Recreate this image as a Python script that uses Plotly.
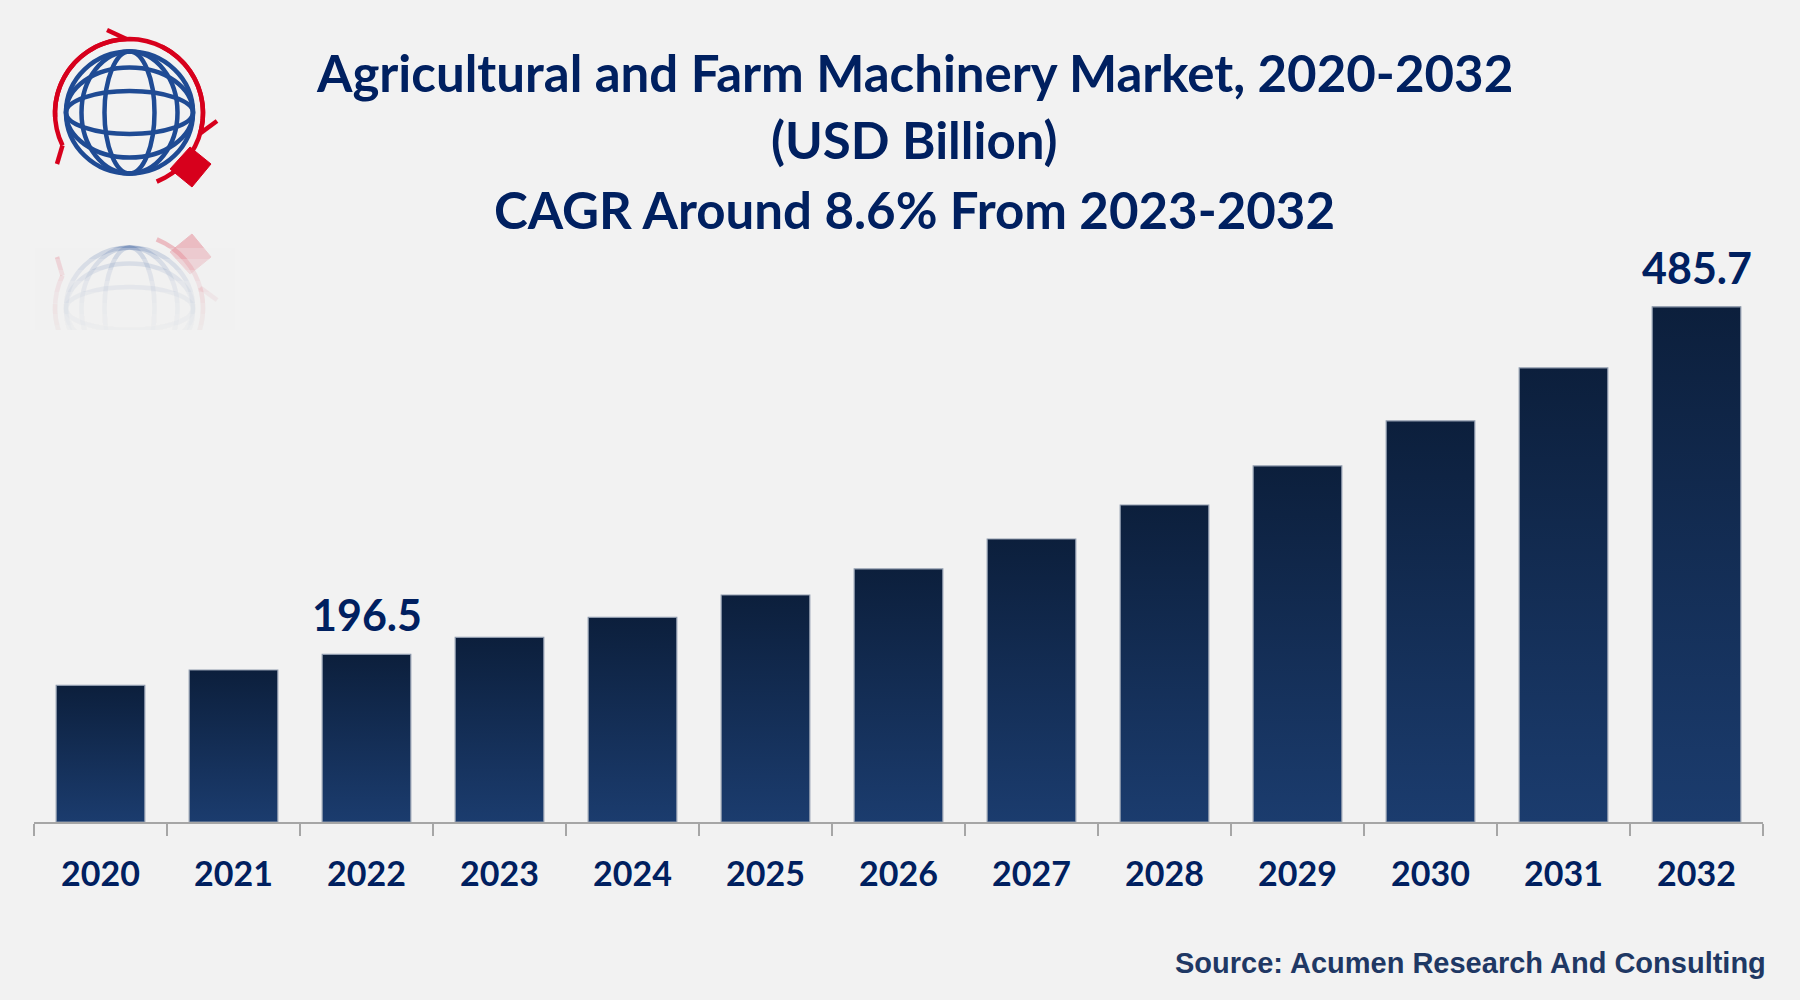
import math
import plotly.graph_objects as go

# Data
years = ['2020', '2021', '2022', '2023', '2024', '2025', '2026',
         '2027', '2028', '2029', '2030', '2031', '2032']
market_size = [170.7, 183.5, 196.5, 210.6, 227.3, 245.9, 267.6,
               292.5, 320.8, 353.3, 390.8, 434.9, 485.7]
labeled_years = ['2022', '2032']

title_lines = ['Agricultural and Farm Machinery Market, 2020-2032',
               '(USD Billion)',
               'CAGR Around 8.6% From 2023-2032']
source_text = 'Source: Acumen Research And Consulting'

# Layout constants
W, H = 1800, 1000
ML, MR, MT, MB = 34, 37, 250, 178
Y_MIN, Y_MAX = 57, 533
BG = '#F2F2F2'
NAVY = '#002060'
BLUE = '#1F4B94'
RED = '#D7001C'


def px_x(px):
  """pixel x -> paper x"""
  return (px - ML) / (W - ML - MR)


def px_y(py):
  """pixel y (from top) -> paper y"""
  return (H - MB - py) / (H - MT - MB)


def path_from(points):
  return 'M ' + ' L '.join(f'{px_x(x):.5f},{px_y(y):.5f}' for x, y in points)


def arc_points(cx, cy, r, a0, a1, n=40):
  pts = []
  for k in range(n + 1):
    a = math.radians(a0 + (a1 - a0) * k / n)
    pts.append((cx + r * math.cos(a), cy - r * math.sin(a)))
  return pts


def logo_shapes(mirror=None, opacity=1.0):
  """globe logo, optionally mirrored around pixel line y=mirror"""
  fy = (lambda y: y) if mirror is None else (lambda y: 2 * mirror - y)
  shapes = []
  cx, cy = 129.5, 112.5
  # globe ellipses
  for rx, ry in [(63.5, 61), (48, 61), (25, 61), (63.5, 45), (63.5, 21.5)]:
    ya, yb = fy(cy - ry), fy(cy + ry)
    shapes.append(dict(type='circle', xref='paper', yref='paper',
                       x0=px_x(cx - rx), x1=px_x(cx + rx),
                       y0=px_y(ya), y1=px_y(yb),
                       line=dict(color=BLUE, width=4.5), opacity=opacity,
                       layer='above'))
  # red arcs with a single barb at the end
  arcs = [((183, 92), (107, 30)), ((64, -16), (217, 121)), ((-68, 206), (57, 164))]
  for (a0, a1), barb in arcs:
    pts = arc_points(129, 113, 74, a0, a1)
    pts = [(x, fy(y)) for x, y in pts]
    shapes.append(dict(type='path', xref='paper', yref='paper', path=path_from(pts),
                       line=dict(color=RED, width=4.5), opacity=opacity, layer='above'))
    end = pts[-1]
    shapes.append(dict(type='path', xref='paper', yref='paper',
                       path=path_from([end, (barb[0], fy(barb[1]))]),
                       line=dict(color=RED, width=4.5), opacity=opacity, layer='above'))
  # red diamond
  corners = [(190, 147), (211, 164), (192, 187), (170, 169)]
  corners = [(x, fy(y)) for x, y in corners]
  shapes.append(dict(type='path', xref='paper', yref='paper',
                     path=path_from(corners) + ' Z', fillcolor=RED,
                     line=dict(color=RED, width=1), opacity=opacity, layer='above'))
  return shapes


fig = go.Figure()

# bars drawn as filled polygons so each one gets its own vertical gradient
half = 0.333
for i, (year, value) in enumerate(zip(years, market_size)):
  fig.add_trace(go.Scatter(
    x=[i - half, i + half, i + half, i - half, i - half],
    y=[Y_MIN, Y_MIN, value, value, Y_MIN],
    mode='lines', fill='toself',
    fillgradient=dict(type='vertical',
                      colorscale=[[0, '#1B3C6E'], [1, '#0C1F3C']]),
    line=dict(color='#8D99AC', width=1.2),
    name=year, hoverinfo='skip', showlegend=False,
  ))

# value labels
for year in labeled_years:
  i = years.index(year)
  fig.add_annotation(x=i, y=market_size[i], text=f'{market_size[i]:.1f}',
                     showarrow=False, yanchor='bottom', yshift=12,
                     font=dict(family='Lato', size=43, color=NAVY, weight='bold'))

# title
title_y = [72.5, 139.5, 210]
for line, ty in zip(title_lines, title_y):
  fig.add_annotation(xref='paper', yref='paper', x=px_x(914), y=px_y(ty),
                     text=line, showarrow=False, xanchor='center', yanchor='middle',
                     font=dict(family='Lato', size=51, color=NAVY, weight='bold'))

# source
fig.add_annotation(xref='paper', yref='paper', x=px_x(1768), y=px_y(963),
                   text=source_text, showarrow=False, xanchor='right', yanchor='middle',
                   font=dict(family='Liberation Sans', size=29, color='#1F3864',
                             weight='bold'))

shapes = logo_shapes()
shapes += logo_shapes(mirror=210.5, opacity=0.22)
# fade the reflection out
for k in range(8):
  shapes.append(dict(type='rect', xref='paper', yref='paper',
                     x0=px_x(35), x1=px_x(235), y0=px_y(248 + k * 11), y1=px_y(440),
                     fillcolor=BG, line=dict(width=0), opacity=0.28, layer='above'))
shapes.append(dict(type='rect', xref='paper', yref='paper',
                   x0=px_x(35), x1=px_x(235), y0=px_y(330), y1=px_y(440),
                   fillcolor=BG, line=dict(width=0), layer='above'))

fig.update_layout(
  width=W, height=H,
  margin=dict(l=ML, r=MR, t=MT, b=MB),
  paper_bgcolor=BG, plot_bgcolor=BG,
  shapes=shapes,
  xaxis=dict(range=[-0.5, len(years) - 0.5], tickmode='array',
             tickvals=list(range(len(years))), ticktext=years, ticks='',
             showline=True, linecolor='#A6A6A6', linewidth=2,
             showgrid=False, zeroline=False, fixedrange=True,
             ticklabelstandoff=21,
             tickfont=dict(family='Lato', size=34, color=NAVY, weight='bold'),
             minor=dict(tickmode='array',
                        tickvals=[i - 0.5 for i in range(len(years) + 1)],
                        ticks='outside', ticklen=12, tickwidth=2,
                        tickcolor='#A6A6A6', showgrid=False)),
  yaxis=dict(range=[Y_MIN, Y_MAX], visible=False, fixedrange=True),
)

# drop the page's default body margin so the figure sits at the top-left corner
fig.write_html('out.html', config={'displayModeBar': False},
               post_script="document.body.style.margin = '0';")
